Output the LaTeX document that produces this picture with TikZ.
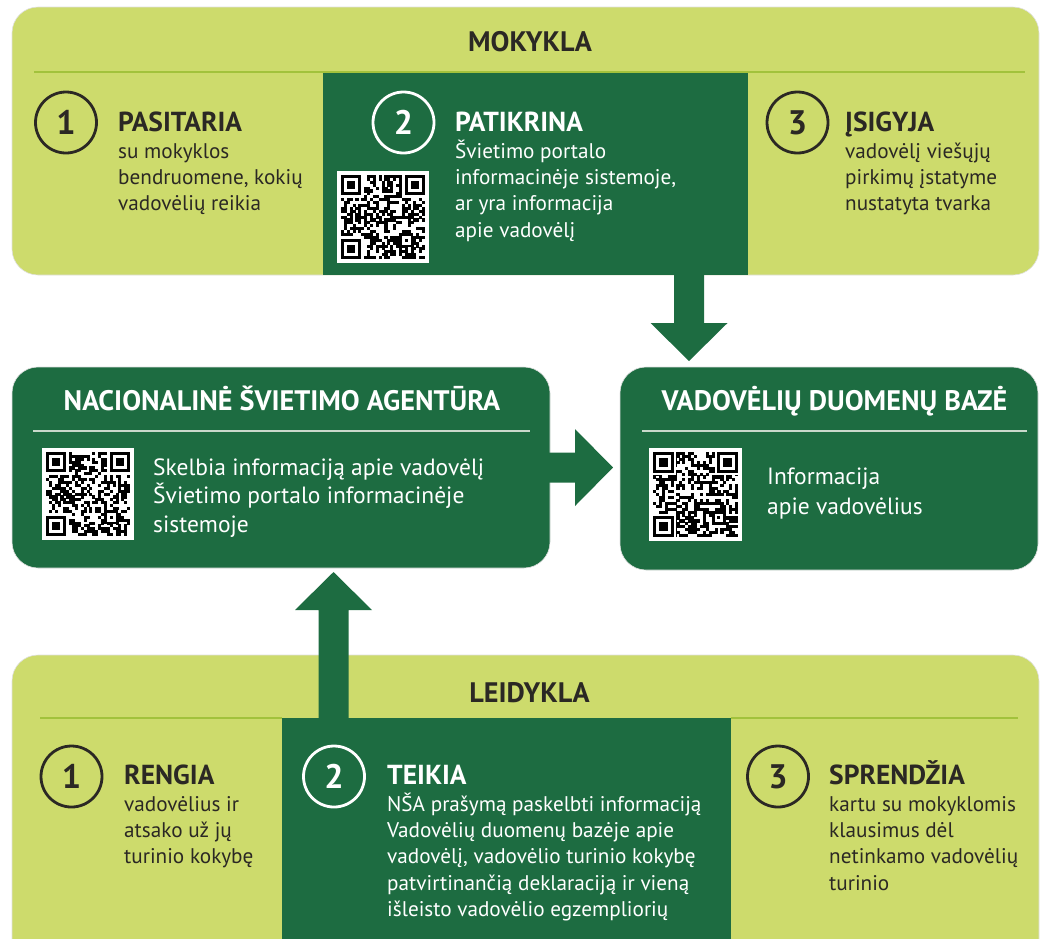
\documentclass[tikz,border=0pt]{standalone}
\usepackage{fontspec}
\setmainfont{PT Sans}
\usetikzlibrary{calc}
\definecolor{lgreen}{HTML}{CDDB6C}
\definecolor{dgreen}{HTML}{1D6C41}
\definecolor{hline}{HTML}{A2C23C}
\definecolor{ink}{HTML}{2B2824}
\definecolor{wline}{HTML}{C9D9CB}
\newcommand\hd[1]{{\fontsize{27.5}{26}\selectfont\bfseries #1}}
\newcommand\BlkArrow[2]{%
  \coordinate (#1-h) at ($(#2)!38pt!(#1)$);
  \fill[dgreen] ($(#1)!15pt!90:(#2)$) -- ($(#1-h)!15pt!90:(#2)$) -- ($(#1-h)!38.5pt!90:(#2)$) -- (#2)
    -- ($(#1-h)!38.5pt!-90:(#2)$) -- ($(#1-h)!15pt!-90:(#2)$) -- ($(#1)!15pt!-90:(#2)$) -- cycle;}
\newcommand\QRcode[4]{%
  \begin{scope}[shift={(#1,#2)}]
    \fill[white] (0,0) rectangle (#3,#3);
    \pgfmathsetseed{#4}%
    \pgfmathsetmacro\qm{(#3-8)/29}%
    \begin{scope}[shift={(4,4)}]
      \foreach \i in {0,...,28}{\foreach \j in {0,...,28}{%
        \pgfmathrnd
        \ifdim\pgfmathresult pt<0.5pt \fill[black] (\i*\qm,\j*\qm) rectangle ++(\qm+0.15,\qm+0.15);\fi}}
      \foreach \a/\b in {0/0,21/0,0/21}{%
        \fill[white] (\a*\qm,\b*\qm) rectangle ++(8*\qm,8*\qm);}
      \foreach \a/\b in {0/0,22/0,0/22}{%
        \fill[black] (\a*\qm,\b*\qm) rectangle ++(7*\qm,7*\qm);
        \fill[white] (\a*\qm+\qm,\b*\qm+\qm) rectangle ++(5*\qm,5*\qm);
        \fill[black] (\a*\qm+2*\qm,\b*\qm+2*\qm) rectangle ++(3*\qm,3*\qm);}
      \fill[black] (20*\qm,20*\qm) rectangle ++(5*\qm,5*\qm);
      \fill[white] (21*\qm,21*\qm) rectangle ++(3*\qm,3*\qm);
      \fill[black] (22*\qm,22*\qm) rectangle ++(\qm,\qm);
    \end{scope}
  \end{scope}}
\begin{document}
\begin{tikzpicture}[x=1pt,y=-1pt,
  box/.style={rounded corners=26pt, inner sep=0pt, outer sep=0pt, draw=black!12, line width=0.6pt},
  panel/.style={fill=dgreen, inner sep=0pt, outer sep=0pt, anchor=north west},
  circ/.style={circle, line width=2.8pt, minimum size=61pt, inner sep=0pt, font=\fontsize{34}{34}\selectfont\bfseries},
  title/.style={anchor=base, inner sep=0pt, font=\fontsize{28.2}{28}\selectfont\bfseries},
  blk/.style={anchor=base west, align=left, inner sep=0pt, font=\fontsize{21.2}{26.3}\selectfont},
  blkb/.style={anchor=base west, align=left, inner sep=0pt, font=\fontsize{23.5}{28.7}\selectfont}]
\useasboundingbox (0,0) rectangle (1040,938);
\clip (0,0) rectangle (1040,938);
% ---------- MOKYKLA ----------
\node[box, fill=lgreen, minimum width=1027pt, minimum height=268pt, anchor=north west] (mok) at (12,7) {};
\node[panel, minimum width=425pt, minimum height=203pt] (mpanel) at (323,72) {};
\draw[hline, line width=1.5pt] (34,72) -- (1025,72);
\node[title, text=ink] (tmok) at (530,51) {MOKYKLA};
\node[circ, draw=ink, text=ink] (m1) at (66,122.5) {1};
\node[blk, text=ink] (m1t) at (118,210.9) {\hd{PASITARIA}\\[1pt]su mokyklos\\bendruomene, kokių\\vadovėlių reikia};
\node[circ, draw=white, text=white] (m2) at (403.5,122.5) {2};
\node[blk, text=white] (m2t) at (455,237.2) {\hd{PATIKRINA}\\[1pt]Švietimo portalo\\informacinėje sistemoje,\\ar yra informacija\\apie vadovėlį};
\QRcode{337}{171}{92}{11}
\node[circ, draw=ink, text=ink] (m3) at (797.5,122.5) {3};
\node[blk, text=ink] (m3t) at (845,210.9) {\hd{ĮSIGYJA}\\[1pt]vadovėlį viešųjų\\pirkimų įstatyme\\nustatyta tvarka};
% ---------- LEIDYKLA ----------
\node[box, fill=lgreen, minimum width=1027pt, minimum height=335pt, anchor=north west] (lei) at (12,655) {};
\node[panel, minimum width=449pt, minimum height=240pt] (lpanel) at (282,718) {};
\draw[hline, line width=1.5pt] (40,718) -- (282,718) (731,718) -- (1018,718);
\node[title, text=ink] (tlei) at (529.5,702) {LEIDYKLA};
\node[circ, draw=ink, text=ink] (l1) at (71.5,776.5) {1};
\node[blk, text=ink] (l1t) at (124,863.9) {\hd{RENGIA}\\[1pt]vadovėlius ir\\atsako už jų\\turinio kokybę};
\node[circ, draw=white, text=white] (l2) at (334,776.5) {2};
\node[blk, text=white] (l2t) at (387,916.5) {\hd{TEIKIA}\\[1pt]NŠA prašymą paskelbti informaciją\\Vadovėlių duomenų bazėje apie\\vadovėlį, vadovėlio turinio kokybę\\patvirtinančią deklaraciją ir vieną\\išleisto vadovėlio egzempliorių};
\node[circ, draw=ink, text=ink] (l3) at (778,776.5) {3};
\node[blk, text=ink] (l3t) at (829,890.2) {\hd{SPRENDŽIA}\\[1pt]kartu su mokyklomis\\klausimus dėl\\netinkamo vadovėlių\\turinio};
% ---------- NSA & VDB ----------
\node[box, fill=dgreen, minimum width=538pt, minimum height=201pt, anchor=north west] (nsa) at (12,367) {};
\node[title, text=white] (tnsa) at (282,410) {NACIONALINĖ ŠVIETIMO AGENTŪRA};
\draw[wline, line width=1.2pt] (33,431) -- (530,431);
\QRcode{42}{448}{92}{23}
\node[blkb, text=white] (nsat) at (153,532.4) {Skelbia informaciją apie vadovėlį\\Švietimo portalo informacinėje\\sistemoje};
\node[box, fill=dgreen, minimum width=418pt, minimum height=203pt, anchor=north west] (vdb) at (620,367) {};
\node[title, text=white] (tvdb) at (834.5,410) {VADOVĖLIŲ DUOMENŲ BAZĖ};
\draw[wline, line width=1.2pt] (642,431) -- (1027,431);
\QRcode{649}{448}{93}{37}
\node[blkb, text=white, font=\fontsize{23.5}{30}\selectfont] (vdbt) at (767,514) {Informacija\\apie vadovėlius};
% ---------- arrows ----------
\coordinate (dS) at (689,0 |- mok.south);
\coordinate (dE) at ($(689,0 |- vdb.north)+(0,-6)$);
\BlkArrow{dS}{dE}
\coordinate (uS) at (333.5,0 |- lpanel.north);
\coordinate (uE) at ($(333.5,0 |- nsa.south)+(0,4)$);
\BlkArrow{uS}{uE}
\coordinate (rS) at ($(nsa.east)+(-1,0)$);
\coordinate (rE) at ($(nsa.east -| vdb.west)+(-7,0)$);
\BlkArrow{rS}{rE}
\end{tikzpicture}
\end{document}
